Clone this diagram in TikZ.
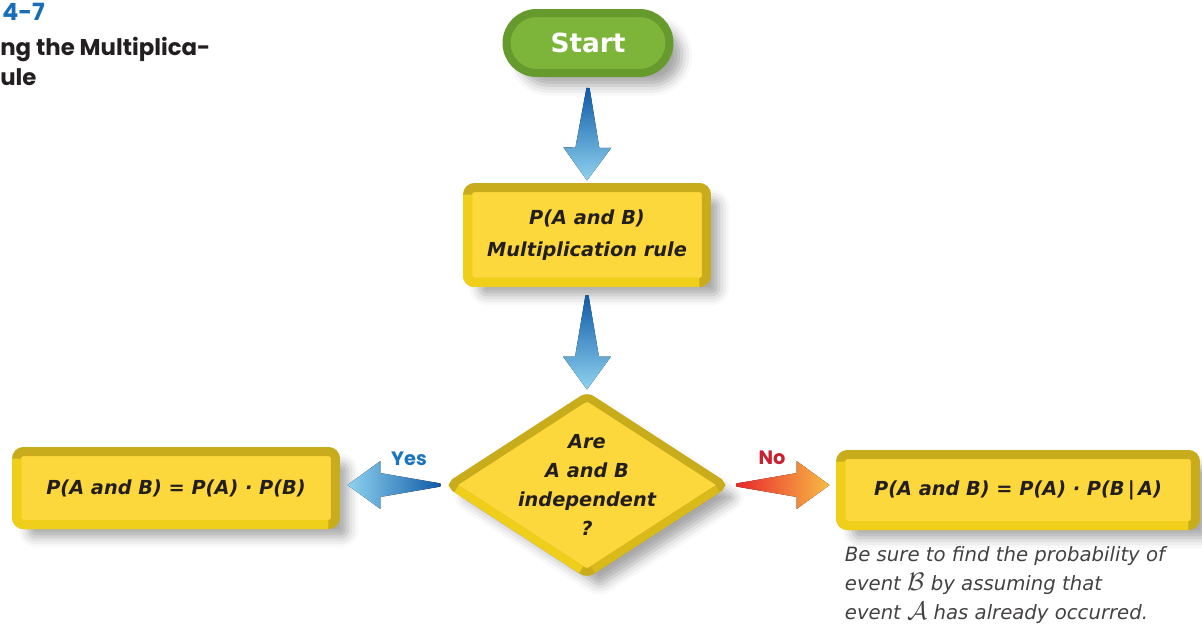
\documentclass[tikz,border=0pt]{standalone}
\usepackage{fontspec}
\usetikzlibrary{shapes.geometric,positioning,calc,shadows.blur}
\newfontfamily\handfont{DejaVu Sans}
\newfontfamily\headfont{Poppins}
\definecolor{boxfill}{HTML}{FDD83C}
\definecolor{rimdark}{HTML}{C8AC1C}
\definecolor{rimlight}{HTML}{F0CF1B}
\definecolor{rimmid}{HTML}{D9BA1A}
\definecolor{startfill}{HTML}{7DB53B}
\definecolor{startrim}{HTML}{679A2C}
\definecolor{arrdark}{HTML}{0E5AA7}
\definecolor{arrlight}{HTML}{8FD3F0}
\definecolor{noleft}{HTML}{E8262B}
\definecolor{nomid}{HTML}{F0907A}
\definecolor{noright}{HTML}{F8BC45}
\definecolor{headblue}{HTML}{1A6EB6}
\definecolor{yesblue}{HTML}{1C75BC}
\definecolor{nored}{HTML}{C8202F}
\definecolor{inkgray}{HTML}{231F20}

\newcommand{\fatarrow}[3]{%
  \coordinate (neck) at ($(#2)!18.7pt!(#1)$);
  \fill[#3] ($(#1)!0.9pt!90:(#2)$) -- ($(neck)!6.8pt!90:(#2)$) -- ($(neck)!13.6pt!90:(#2)$) -- (#2)
    -- ($(neck)!13.6pt!-90:(#2)$) -- ($(neck)!6.8pt!-90:(#2)$) -- ($(#1)!0.9pt!-90:(#2)$) -- cycle;}
\newcommand{\scr}[1]{{\fontsize{13.5}{16}\selectfont$\mathcal{#1}$}}

\begin{document}
\begin{tikzpicture}[x=0.02cm, y=-0.02cm,
    shade/.style={blur shadow={shadow xshift=7pt, shadow yshift=-7pt, shadow blur radius=6pt, shadow opacity=35}},
    box/.style={draw=rimdark, fill=boxfill, line width=0.18cm, rounded corners=4pt, outer sep=0pt, align=center, text=inkgray,
        font=\handfont\itshape\bfseries\fontsize{11}{18}\selectfont, shade},
    rimedge/.style={rimlight, line width=0.18cm, rounded corners=4pt, shorten <=4pt, shorten >=4pt},
    startbox/.style={draw=startrim, fill=startfill, line width=0.16cm, rounded corners=0.6cm, minimum width=3.26cm,
        minimum height=1.2cm, outer sep=0pt, text=white, font=\handfont\bfseries\fontsize{15}{18}\selectfont, shade},
    test/.style={diamond, draw=rimdark, fill=boxfill, line width=0.16cm, rounded corners=3pt, minimum width=5.46cm,
        minimum height=3.54cm, inner sep=0pt, outer sep=0pt, shade},
    qtext/.style={align=center, text=inkgray, font=\handfont\itshape\bfseries\fontsize{11}{16.5}\selectfont},
    yesno/.style={font=\headfont\bfseries\fontsize{11}{13}\selectfont},
    head/.style={inner sep=0pt, text=inkgray, font=\headfont\bfseries\fontsize{13}{17}\selectfont},
    note/.style={inner sep=0pt, align=left, text=inkgray!85, font=\handfont\itshape\fontsize{11.2}{16.5}\selectfont}
]
\useasboundingbox (0,0) rectangle (1202,629);

\node[head, text=headblue, anchor=west, font=\headfont\bfseries\fontsize{13.5}{15}\selectfont] (num) at (2,12) {4-7};
\node[head, align=left, anchor=north west] (title) at (0,37) {ng the Multiplica-\\ule};

\node[startbox] (start) at (588,43) {Start};
\node[box, minimum width=4.78cm, minimum height=1.90cm] (rule) at (587,235) {P(A and B)\\Multiplication rule};
\node[test] (test) at (587,485) {};
\node[qtext] (testtext) at (test.center) {Are\\A and B\\independent\\?};
\node[box, minimum width=6.38cm, minimum height=1.46cm] (pindep) at (176,488) {P(A and B) = P(A) · P(B)};
\node[box, minimum width=7.10cm, minimum height=1.42cm] (pdep) at (1018,490) {P(A and B) = P(A) · P(B\,|\,A)};

\foreach \b in {rule,pindep,pdep}
  \draw[rimedge] (\b.north west) -- (\b.south west) -- (\b.south east);
\draw[rimedge, line width=0.16cm] (test.west) -- (test.south);
\draw[rimedge, rimmid, line width=0.16cm] (test.south) -- (test.east);

\coordinate (a1) at ($(start.south)+(0,15)$);
\coordinate (a2) at ($(rule.north)+(0,-7)$);
\coordinate (b1) at ($(rule.south)+(0,13)$);
\coordinate (b2) at ($(test.north)+(0,-7)$);
\coordinate (y1) at ($(test.west)+(-10,0)$);
\coordinate (y2) at ($(test.west -| pindep.east)+(12,0)$);
\coordinate (n1) at ($(test.east)+(13,0)$);
\coordinate (n2) at ($(test.east -| pdep.west)+(-11,0)$);
\fatarrow{a1}{a2}{top color=arrdark, bottom color=arrlight}
\fatarrow{b1}{b2}{top color=arrdark, bottom color=arrlight}
\fatarrow{y1}{y2}{left color=arrlight, right color=arrdark}
\fatarrow{n1}{n2}{left color=noleft, middle color=nomid, right color=noright}

\node[yesno, text=yesblue] (yes) at (409,459) {Yes};
\node[yesno, text=nored] (no) at (772,458) {No};

\node[note, anchor=north west] (hint) at ($(pdep.south west)+(4,21)$)
  {Be sure to find the probability of\\event \scr{B} by assuming that\\event \scr{A} has already occurred.};
\end{tikzpicture}
\end{document}
